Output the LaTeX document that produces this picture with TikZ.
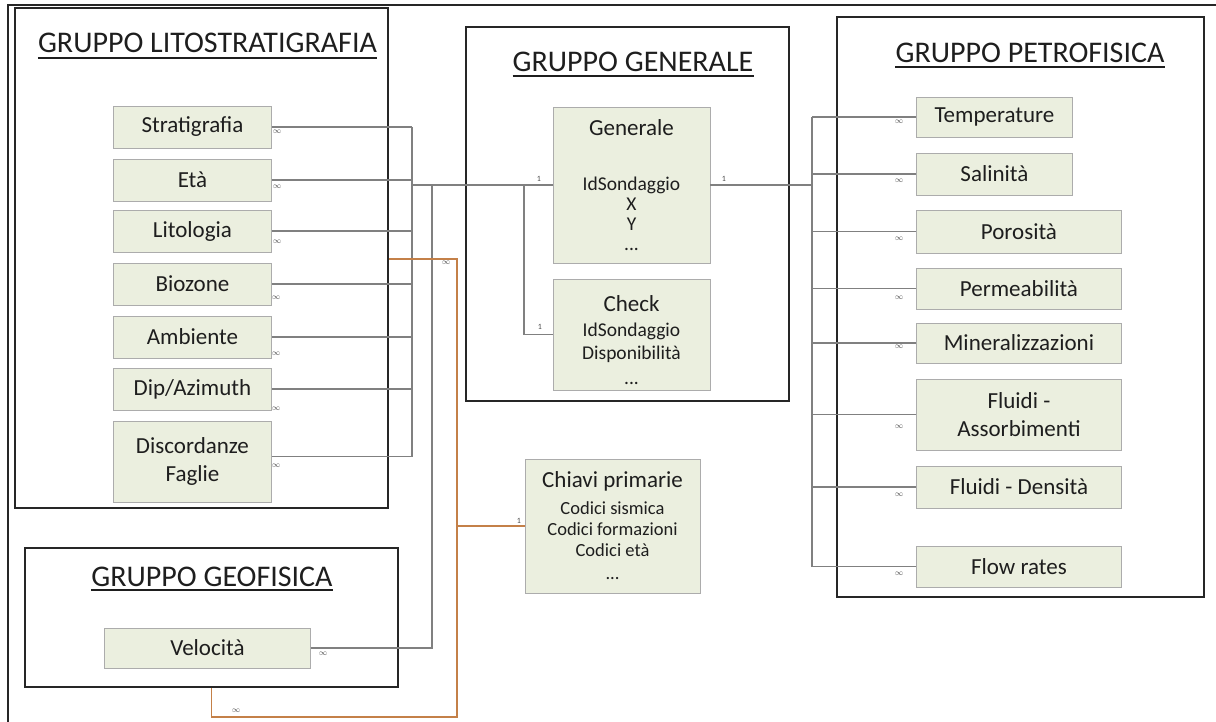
\documentclass[tikz,border=0pt]{standalone}
\usepackage{fontspec}
\setmainfont{Carlito}
\definecolor{entfill}{RGB}{235,239,223}
\definecolor{entline}{RGB}{172,172,172}
\definecolor{connc}{RGB}{128,128,128}
\definecolor{orc}{RGB}{196,128,72}
\definecolor{grpline}{RGB}{38,38,38}
\definecolor{txt}{RGB}{30,30,30}
\newcommand\mainf{\fontsize{23}{28}\selectfont}
\newcommand\genf{\fontsize{19.5}{20}\selectfont}
\newcommand\ckf{\fontsize{19.5}{23}\selectfont}
\newcommand\chf{\fontsize{18.5}{21}\selectfont}
\tikzset{
  ent/.style={draw=entline, fill=entfill, line width=0.9pt, inner sep=0pt, align=center, text=txt, font=\mainf},
  grp/.style={draw=grpline, line width=1.8pt, inner sep=0pt},
  conn/.style={draw=connc, line width=1.6pt},
  oconn/.style={draw=orc, line width=1.6pt},
  card/.style={font=\fontsize{8}{8}\selectfont, text=txt!80, inner sep=0pt},
  ttl/.style={font=\fontsize{30}{32}\selectfont, text=txt, inner sep=0pt, anchor=base},
  uline/.style={draw=txt, line width=1.8pt},
  frame/.style={draw=grpline, line width=1.8pt}
}
\begin{document}
\begin{tikzpicture}[x=1pt,y=-1pt]
\useasboundingbox (0,0) rectangle (1216,722);
\fill[white] (0,0) rectangle (1216,722);
% outer frame
\draw[frame] (8,722) -- (8,5) -- (1216,5);
% group boxes
\node[grp, minimum width=373pt, minimum height=500pt] (gLito) at (201.5,258) {};
\node[grp, minimum width=373pt, minimum height=139pt] (gGeo) at (211.5,617.5) {};
\node[grp, minimum width=323pt, minimum height=374pt] (gGen) at (627.5,214) {};
\node[grp, minimum width=367pt, minimum height=580pt] (gPetro) at (1020.5,307) {};
% titles
\node[ttl] (t1) at (207.5,53) {GRUPPO LITOSTRATIGRAFIA};
\draw[uline] ([yshift=-5pt]t1.base west) -- ([yshift=-5pt]t1.base east);
\node[ttl] (t2) at (633,72) {GRUPPO GENERALE};
\draw[uline] ([yshift=-4pt]t2.base west) -- ([yshift=-4pt]t2.base east);
\node[ttl] (t3) at (1030,63) {GRUPPO PETROFISICA};
\draw[uline] ([yshift=-4pt]t3.base west) -- ([yshift=-4pt]t3.base east);
\node[ttl] (t4) at (212,586) {GRUPPO GEOFISICA};
\draw[uline] ([yshift=-4pt]t4.base west) -- ([yshift=-4pt]t4.base east);
% litho entities
\node[ent, anchor=west, minimum width=158pt, minimum height=42pt] (strat) at (113,127) {Stratigrafia};
\node[ent, anchor=west, minimum width=158pt, minimum height=42pt] (eta) at (113,180) {Età};
\node[ent, anchor=west, minimum width=158pt, minimum height=42pt] (lito) at (113,231) {Litologia};
\node[ent, anchor=west, minimum width=158pt, minimum height=42pt] (bio) at (113,284) {Biozone};
\node[ent, anchor=west, minimum width=158pt, minimum height=42pt] (amb) at (113,337) {Ambiente};
\node[ent, anchor=west, minimum width=158pt, minimum height=42pt] (dip) at (113,389) {Dip/Azimuth};
\node[ent, anchor=west, minimum width=158pt, minimum height=81pt] (disc) at (113,461.5) {Discordanze\\Faglie};
% geofisica
\node[ent, anchor=west, minimum width=206pt, minimum height=40pt] (velo) at (104,648) {Velocità};
% generale
\node[ent, font=\genf, minimum width=157pt, minimum height=156pt] (generale) at (631.5,185) {{\mainf Generale}\\[35pt]IdSondaggio\\X\\Y\\...};
\node[ent, font=\ckf, minimum width=157pt, minimum height=111pt] (check) at (631.5,334.5) {{\mainf\rule{0pt}{28pt}Check}\\[2pt]IdSondaggio\\Disponibilità\\[2pt]...};
% chiavi
\node[ent, font=\chf, minimum width=175pt, minimum height=134pt] (chiavi) at (612.5,526) {{\mainf Chiavi primarie}\\[6pt]Codici sismica\\Codici formazioni\\Codici età\\[2pt]...};
% petro entities
\node[ent, anchor=west, minimum width=156pt, minimum height=40pt] (temp) at (916,117) {Temperature};
\node[ent, anchor=west, minimum width=156pt, minimum height=42pt] (sal) at (916,174) {Salinità};
\node[ent, anchor=west, minimum width=205pt, minimum height=43pt] (por) at (916,231.5) {Porosità};
\node[ent, anchor=west, minimum width=205pt, minimum height=41pt] (perm) at (916,288.5) {Permeabilità};
\node[ent, anchor=west, minimum width=205pt, minimum height=40pt] (mine) at (916,343) {Mineralizzazioni};
\node[ent, anchor=west, minimum width=205pt, minimum height=71pt] (fass) at (916,414.5) {Fluidi -\\Assorbimenti};
\node[ent, anchor=west, minimum width=205pt, minimum height=42pt] (fden) at (916,487) {Fluidi - Densità};
\node[ent, anchor=west, minimum width=205pt, minimum height=41pt] (flow) at (916,566.5) {Flow rates};
% connectors litho
\coordinate (lbus) at (412,185);
\foreach \n in {strat,eta,lito,bio,amb,dip}{\draw[conn] (\n.east) -- (\n.east -| lbus);}
\draw[conn] ([yshift=5pt]disc.east) -- ([yshift=5pt]disc.east -| lbus);
\draw[conn] (strat.east -| lbus) -- ([yshift=5pt]disc.east -| lbus);
\draw[conn] (lbus) -- (generale.west);
\coordinate (vbus) at (432,185);
\draw[conn] (velo.east) -| (vbus);
\coordinate (cbus) at (524,185);
\draw[conn] (check.west) -| (cbus);
\coordinate (pbus) at (812,185);
\draw[conn] (generale.east) -- (pbus);
\foreach \n in {temp,sal,por,perm,mine,fass,fden,flow}{\draw[conn] (\n.west) -- (\n.west -| pbus);}
\draw[conn] (temp.west -| pbus) -- (flow.west -| pbus);
% orange
\coordinate (oa) at (457,259);
\coordinate (ob) at (457,717);
\draw[oconn] (gLito.east |- oa) -- (oa) -- (ob) -| (gGeo.south);
\draw[oconn] (chiavi.west) -- (chiavi.west -| oa);
% cardinalities
\foreach \x/\y in {277/132,277/187,277/242,276/298,276/354,276/409,276/466,323/654,446/263,236/711,
  899/122,899/181,899/239,899/298,899/347,899/427,899/495,899/574}{\node[card] at (\x,\y) {$\infty$};}
\foreach \x/\y in {539/179,724/179,540/327,519/521}{\node[card] at (\x,\y) {1};}
\end{tikzpicture}
\end{document}
